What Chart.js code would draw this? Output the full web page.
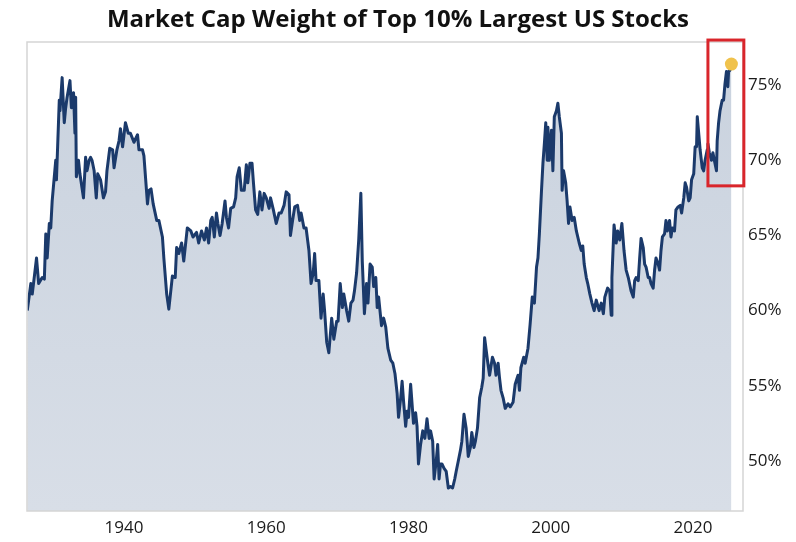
<!DOCTYPE html>
<html>
<head>
<meta charset="utf-8">
<script src="https://cdn.jsdelivr.net/npm/chart.js@4.4.1/dist/chart.umd.min.js"></script>
<style>
html,body{margin:0;padding:0;background:#ffffff;}
#wrap{width:796px;height:542px;position:relative;}
</style>
</head>
<body>
<div id="wrap"><canvas id="c" width="796" height="542"></canvas></div>
<script>
const chartTitle = 'Market Cap Weight of Top 10% Largest US Stocks';

const years = [
1926.4,1926.9,1927.1,1927.7,1928.0,1928.5,1928.8,1929.0,1929.2,1929.5,1929.7,1929.9,
1930.4,1930.5,1930.9,1931.0,1931.3,1931.6,1931.8,1932.0,1932.4,1932.6,1932.9,1933.1,
1933.2,1933.3,1933.6,1933.8,1934.3,1934.6,1934.8,1935.1,1935.3,1935.5,1935.8,1936.1,
1936.3,1936.7,1937.1,1937.4,1937.6,1938.0,1938.4,1938.6,1939.0,1939.3,1939.5,1939.8,
1940.2,1940.6,1940.9,1941.4,1941.9,1942.1,1942.6,1942.8,1943.3,1943.5,1943.8,1944.1,
1944.6,1944.9,1945.4,1945.6,1946.0,1946.3,1946.8,1947.2,1947.4,1947.7,1948.1,1948.4,
1948.9,1949.4,1949.7,1950.2,1950.5,1950.9,1951.3,1951.6,1951.9,1952.2,1952.4,1952.7,
1953.0,1953.2,1953.5,1953.8,1954.2,1954.4,1954.7,1955.0,1955.4,1955.7,1955.9,1956.2,
1956.5,1956.9,1957.2,1957.4,1957.7,1958.0,1958.2,1958.5,1958.8,1959.1,1959.4,1959.7,
1960.0,1960.4,1960.6,1961.0,1961.4,1961.8,1962.1,1962.5,1962.8,1963.2,1963.4,1963.7,
1964.0,1964.4,1964.7,1964.9,1965.3,1965.6,1966.0,1966.3,1966.6,1966.8,1967.0,1967.4,
1967.7,1968.0,1968.2,1968.5,1968.8,1969.2,1969.5,1969.9,1970.1,1970.4,1970.7,1970.9,
1971.3,1971.6,1971.9,1972.2,1972.4,1972.7,1973.0,1973.3,1973.5,1973.8,1974.1,1974.3,
1974.6,1974.9,1975.1,1975.4,1975.6,1975.8,1976.2,1976.5,1976.8,1977.1,1977.5,1977.8,
1978.1,1978.4,1978.6,1978.9,1979.1,1979.3,1979.6,1979.8,1980.0,1980.3,1980.5,1980.7,
1981.0,1981.2,1981.4,1981.7,1982.0,1982.3,1982.6,1982.9,1983.1,1983.4,1983.6,1983.9,
1984.1,1984.3,1984.5,1984.7,1985.0,1985.3,1985.6,1985.9,1986.2,1986.5,1986.7,1987.0,
1987.3,1987.5,1987.8,1988.1,1988.4,1988.7,1988.9,1989.2,1989.4,1989.7,1990.0,1990.3,
1990.5,1990.7,1991.1,1991.4,1991.8,1992.1,1992.3,1992.6,1992.8,1993.0,1993.3,1993.6,
1994.0,1994.3,1994.7,1995.0,1995.4,1995.6,1995.8,1996.2,1996.4,1996.8,1997.1,1997.4,
1997.7,1998.0,1998.2,1998.4,1998.7,1998.9,1999.1,1999.3,1999.5,1999.6,1999.8,2000.1,
2000.3,2000.5,2000.8,2001.0,2001.2,2001.5,2001.6,2001.8,2002.1,2002.3,2002.5,2002.7,
2003.0,2003.3,2003.6,2004.0,2004.3,2004.5,2004.7,2005.0,2005.2,2005.5,2005.8,2006.1,
2006.4,2006.8,2007.1,2007.4,2007.6,2008.0,2008.3,2008.5,2008.6,2008.9,2009.2,2009.4,
2009.7,2010.0,2010.3,2010.6,2010.9,2011.3,2011.6,2011.8,2012.0,2012.3,2012.5,2012.7,
2013.0,2013.2,2013.4,2013.7,2013.9,2014.1,2014.4,2014.6,2014.8,2015.1,2015.3,2015.5,
2015.7,2016.0,2016.2,2016.4,2016.7,2016.9,2017.1,2017.4,2017.6,2017.9,2018.2,2018.4,
2018.7,2018.9,2019.1,2019.4,2019.6,2019.8,2020.1,2020.3,2020.5,2020.6,2020.8,2021.0,
2021.3,2021.5,2021.7,2022.0,2022.1,2022.3,2022.6,2022.8,2023.0,2023.3,2023.4,2023.6,
2023.8,2024.1,2024.3,2024.5,2024.7,2024.9,2025.0,2025.2,2025.4
];

const weights = [
60.0,61.8,61.1,63.5,61.8,62.2,62.1,65.1,63.5,65.8,65.5,67.3,
70.0,68.7,74.0,73.3,75.5,72.5,73.5,74.2,75.3,73.5,74.5,71.8,
74.2,68.9,70.0,69.1,67.5,70.2,69.3,70.0,70.2,70.0,69.3,67.5,
69.1,68.7,67.5,67.9,69.3,70.8,70.7,69.5,70.7,71.3,72.1,70.9,
72.5,71.8,71.8,71.2,71.7,70.7,70.7,70.3,67.1,68.0,68.1,67.1,
66.0,66.0,64.9,63.5,61.1,60.1,62.3,62.2,64.2,63.8,64.5,63.3,
65.5,65.3,64.9,65.2,64.5,65.3,64.7,65.5,64.5,66.0,66.2,64.9,
66.5,65.8,65.0,65.8,67.3,66.2,65.5,66.8,66.9,67.5,68.9,69.5,
68.0,68.0,69.7,68.5,69.8,69.8,68.5,66.7,66.4,67.9,66.7,67.8,
67.5,66.8,67.5,66.7,65.8,66.5,66.5,67.0,67.9,67.7,65.0,66.0,
66.9,67.0,66.0,66.5,65.5,65.5,64.0,61.8,62.5,63.8,62.0,62.0,
59.5,61.1,60.0,57.9,57.2,59.5,58.1,59.3,59.3,61.8,60.2,61.1,
60.0,59.3,60.5,60.7,61.3,62.5,64.7,67.8,63.3,59.8,61.8,60.5,
63.1,62.9,61.6,62.2,60.2,60.9,59.0,59.5,58.9,57.5,56.7,56.5,
55.8,54.5,52.9,54.2,55.3,54.0,52.3,53.3,52.9,55.1,53.8,52.5,
53.2,52.3,49.8,51.1,52.0,51.5,52.8,51.5,52.0,51.3,48.8,50.0,
51.1,48.8,49.8,49.8,49.5,49.3,48.2,48.3,48.2,48.8,49.3,50.0,
50.7,51.3,53.1,52.2,50.3,50.9,51.9,50.9,51.3,52.2,54.2,54.9,
55.5,58.2,56.7,55.7,56.9,56.5,55.7,56.5,55.5,54.7,54.2,53.5,
53.8,53.6,53.9,55.1,55.7,54.7,56.2,56.9,56.5,57.5,59.1,60.9,
60.5,62.9,63.5,65.1,68.0,69.8,71.1,72.5,70.0,72.2,70.0,72.0,
69.3,72.9,73.3,73.8,72.9,71.8,68.0,69.3,68.5,67.3,65.8,66.9,
66.0,66.2,65.3,64.5,64.0,64.3,63.1,62.2,61.8,61.1,60.5,60.0,
60.7,60.0,60.5,59.8,60.9,61.5,61.3,59.7,62.2,65.7,64.5,65.3,
64.7,65.8,64.0,62.7,62.2,61.3,60.9,62.0,62.2,62.0,63.5,64.8,
64.2,63.1,62.9,62.2,62.2,61.8,61.5,62.7,63.5,63.1,62.7,64.0,
64.9,65.1,66.0,65.3,66.0,64.9,65.5,65.3,66.7,66.9,67.0,66.5,
67.5,68.5,68.2,67.3,67.5,68.7,69.1,70.9,70.9,72.9,71.8,70.7,
69.5,69.3,70.0,70.7,71.1,70.5,70.0,70.5,70.0,69.3,71.3,72.5,
73.3,74.0,74.0,75.1,75.9,74.9,75.9,76.0,76.4
];

const xTickYears = [1940, 1960, 1980, 2000, 2020];
const yTickValues = [50, 55, 60, 65, 70, 75];
const xRange = [1926.36, 2027.03];
const yRange = [46.67, 77.87];
const highlightYears = [2022.1, 2027.15];
const highlightWeights = [68.3, 78.0];

const seriesPoints = years.map((yr, i) => ({ x: yr, y: weights[i] }));
const latestPoint = [{ x: years[years.length - 1], y: weights[weights.length - 1] }];

const titlePlugin = {
  id: 'centerTitle',
  afterDraw(chart) {
    const ctx = chart.ctx;
    ctx.save();
    ctx.font = 'bold 24px "Open Sans"';
    ctx.fillStyle = '#111111';
    ctx.textAlign = 'center';
    ctx.textBaseline = 'middle';
    ctx.fillText(chartTitle, chart.width / 2, 20);
    ctx.restore();
  }
};

const framePlugin = {
  id: 'frame',
  afterDatasetsDraw(chart) {
    const { ctx, chartArea: a, scales } = chart;
    ctx.save();
    ctx.strokeStyle = '#d5d5d5';
    ctx.lineWidth = 1.5;
    ctx.strokeRect(a.left, a.top, a.right - a.left, a.bottom - a.top);
    const x0 = scales.x.getPixelForValue(highlightYears[0]);
    const x1 = scales.x.getPixelForValue(highlightYears[1]);
    const y0 = scales.y.getPixelForValue(highlightWeights[1]);
    const y1 = scales.y.getPixelForValue(highlightWeights[0]);
    ctx.strokeStyle = '#d9252b';
    ctx.lineWidth = 3;
    ctx.strokeRect(x0, y0, x1 - x0, y1 - y0);
    ctx.restore();
  }
};

new Chart(document.getElementById('c'), {
  type: 'line',
  data: {
    datasets: [
      {
        type: 'scatter',
        data: latestPoint,
        pointRadius: 6.5,
        pointBackgroundColor: '#f0c24c',
        pointBorderWidth: 0,
        showLine: false,
        clip: false,
        order: 0
      },
      {
        data: seriesPoints,
        borderColor: '#1b3a6b',
        borderWidth: 3,
        pointRadius: 0,
        tension: 0,
        borderJoinStyle: 'round',
        fill: 'start',
        backgroundColor: (c) => {
          const a = c.chart.chartArea;
          if (!a) return '#cfd6e1';
          const g = c.chart.ctx.createLinearGradient(0, a.top, 0, a.bottom);
          g.addColorStop(0, '#c9d2de');
          g.addColorStop(1, '#d8dee7');
          return g;
        },
        order: 1
      }
    ]
  },
  options: {
    responsive: false,
    animation: false,
    devicePixelRatio: 1,
    layout: { padding: { left: 27, top: 42, right: 0, bottom: 0 } },
    plugins: {
      legend: { display: false },
      title: { display: false },
      tooltip: { enabled: false }
    },
    scales: {
      x: {
        type: 'linear',
        min: xRange[0],
        max: xRange[1],
        grid: { display: false, drawTicks: false },
        border: { display: false },
        afterBuildTicks: (s) => { s.ticks = xTickYears.map(v => ({ value: v })); },
        afterFit: (s) => { s.height = 31; },
        ticks: {
          padding: 7,
          autoSkip: false,
          maxRotation: 0,
          color: '#1a1a1a',
          font: { family: '"Open Sans"', size: 17 },
          callback: (v) => String(v)
        }
      },
      y: {
        position: 'right',
        min: yRange[0],
        max: yRange[1],
        grid: { display: false, drawTicks: false },
        border: { display: false },
        afterBuildTicks: (s) => { s.ticks = yTickValues.map(v => ({ value: v })); },
        afterFit: (s) => { s.width = 53; },
        ticks: {
          padding: 5,
          color: '#1a1a1a',
          font: { family: '"Open Sans"', size: 17 },
          callback: (v) => v + '%'
        }
      }
    }
  },
  plugins: [titlePlugin, framePlugin]
});
</script>
</body>
</html>
